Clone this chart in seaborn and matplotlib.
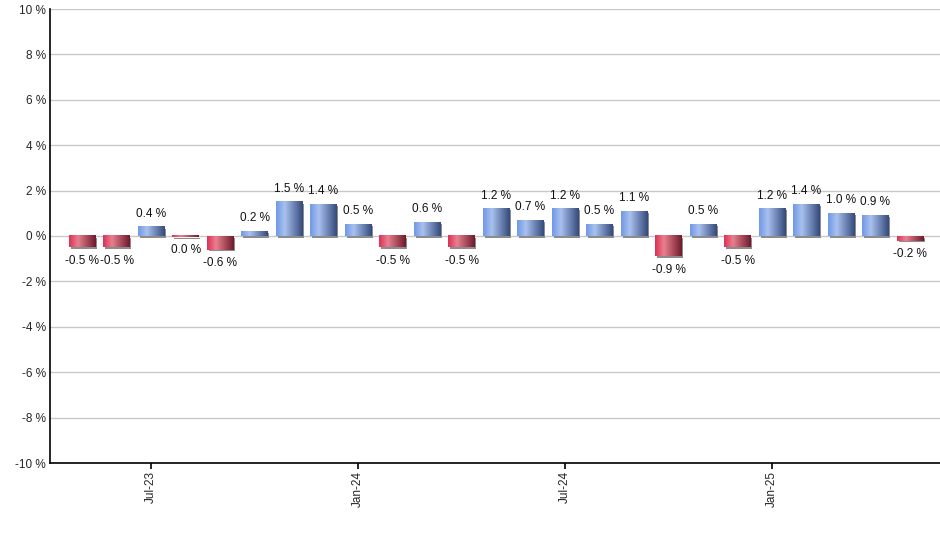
import numpy as np
import matplotlib
matplotlib.use("Agg")
import matplotlib.pyplot as plt
import matplotlib.patheffects as pe
from matplotlib.colors import LinearSegmentedColormap
import seaborn as sns

# monthly returns in %, May-23 .. May-25
months = ["May-23", "Jun-23", "Jul-23", "Aug-23", "Sep-23", "Oct-23", "Nov-23",
          "Dec-23", "Jan-24", "Feb-24", "Mar-24", "Apr-24", "May-24", "Jun-24",
          "Jul-24", "Aug-24", "Sep-24", "Oct-24", "Nov-24", "Dec-24", "Jan-25",
          "Feb-25", "Mar-25", "Apr-25", "May-25"]
returns = [-0.5, -0.5, 0.4, -0.04, -0.6, 0.2, 1.5, 1.4, 0.5, -0.5, 0.6, -0.5,
           1.2, 0.7, 1.2, 0.5, 1.1, -0.9, 0.5, -0.5, 1.2, 1.4, 1.0, 0.9, -0.2]
shown_months = ["Jul-23", "Jan-24", "Jul-24", "Jan-25"]
y_ticks = [-10, -8, -6, -4, -2, 0, 2, 4, 6, 8, 10]

sns.set_style("white")
plt.rcParams["font.family"] = ["Liberation Sans", "DejaVu Sans"]
FS = 8.5

blue_cmap = LinearSegmentedColormap.from_list(
    "blue_bar", [(0.0, "#6f98e6"), (0.33, "#a9c1ef"), (1.0, "#33497a")])
red_cmap = LinearSegmentedColormap.from_list(
    "red_bar", [(0.0, "#dc2f55"), (0.33, "#e9808f"), (1.0, "#6e1a2c")])

fig = plt.figure(figsize=(9.4, 5.5), dpi=100)
ax = fig.add_axes([50 / 940, 1 - 463 / 550, 890 / 940, 454 / 550])

sns.barplot(x=months, y=returns, order=months, width=0.76, color="#7fa0e0",
            ax=ax, zorder=2)

# gradient fill + drop shadow on every bar
grad = np.linspace(0, 1, 256).reshape(1, -1)
for patch, val in zip(ax.patches, returns):
    x0, y0 = patch.get_x(), patch.get_y()
    w, h = patch.get_width(), patch.get_height()
    cmap = blue_cmap if val >= 0 else red_cmap
    patch.set_facecolor("none")
    patch.set_edgecolor("none")
    patch.set_path_effects([pe.SimplePatchShadow(offset=(1.2, -1.2),
                                                 shadow_rgbFace="#8c8c8c",
                                                 alpha=1.0)])
    ymin, ymax = sorted([y0, y0 + h])
    if ymax - ymin < 0.05:
        ymin, ymax = min(ymin, -0.05), max(ymax, 0)
    ax.imshow(grad, cmap=cmap, aspect="auto", zorder=3,
              extent=[x0, x0 + w, ymin, ymax], interpolation="bilinear")
    lab = round(val, 1) + 0.0
    off = 9.5 if val > 0 else -9.5
    ax.annotate(f"{lab:.1f} %", (x0 + w / 2, y0 + h if val > 0 else min(y0, y0 + h)),
                xytext=(0, off), textcoords="offset points", ha="center",
                va="center", fontsize=FS, color="#111111", zorder=5)

ax.set_xlim(-0.93, 24.87)
ax.set_ylim(-10, 10)

ax.set_yticks(y_ticks)
ax.set_yticklabels([f"{t} %" for t in y_ticks], fontsize=FS)
tick_pos = [months.index(m) for m in shown_months]
ax.set_xticks(tick_pos)
ax.set_xticklabels(shown_months, rotation=90, fontsize=FS)
ax.set_xlabel("")
ax.set_ylabel("")

ax.grid(axis="y", color="#c8c8c8", linewidth=1.0, zorder=0)
ax.set_axisbelow(True)
for side in ["top", "right"]:
    ax.spines[side].set_visible(False)
for side in ["left", "bottom"]:
    ax.spines[side].set_color("black")
    ax.spines[side].set_linewidth(1.2)
ax.tick_params(axis="y", length=0, pad=3)
ax.tick_params(axis="x", length=4, width=1.2, color="black", pad=2, direction="out",
               bottom=True)

fig.savefig("out.png", dpi=100)
